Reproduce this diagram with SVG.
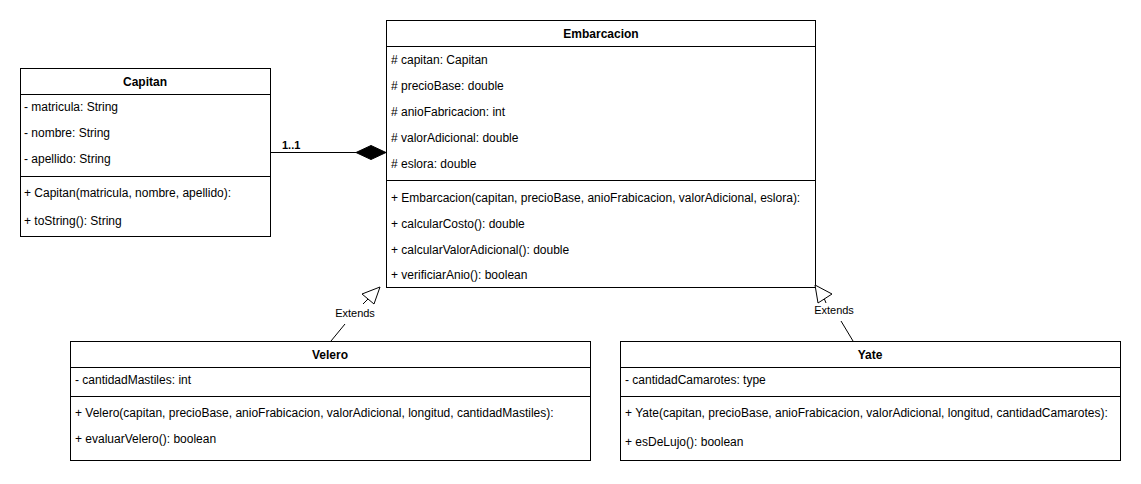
<svg xmlns="http://www.w3.org/2000/svg" width="1141" height="484" viewBox="0 0 1141 484">
<defs>
<style>
text{font-family:"Liberation Sans",Arial,sans-serif;font-size:12px;fill:#000}
.t{font-weight:bold;text-anchor:middle}
.b{fill:#fff;stroke:#000;stroke-width:1}
.l{stroke:#000;stroke-width:1;fill:none}
.lbl{font-size:11px;text-anchor:middle}
</style>
</defs>
<rect width="1141" height="484" fill="#fff"/>
<g id="Capitan">
<rect class="b" x="20.5" y="68.5" width="250" height="168"/>
<line class="l" x1="20.5" y1="94.5" x2="270.5" y2="94.5"/>
<line class="l" x1="20.5" y1="176.5" x2="270.5" y2="176.5"/>
<text class="t" x="145" y="86">Capitan</text>
<text x="24" y="111">- matricula: String</text>
<text x="24" y="137">- nombre: String</text>
<text x="24" y="163">- apellido: String</text>
<text x="24" y="197">+ Capitan(matricula, nombre, apellido):</text>
<text x="24" y="225">+ toString(): String</text>
</g>
<g id="Embarcacion">
<rect class="b" x="386.5" y="20.5" width="429" height="267"/>
<line class="l" x1="386.5" y1="46.5" x2="815.5" y2="46.5"/>
<line class="l" x1="386.5" y1="180.5" x2="815.5" y2="180.5"/>
<text class="t" x="601" y="38">Embarcacion</text>
<text x="391" y="64"># capitan: Capitan</text>
<text x="391" y="90"># precioBase: double</text>
<text x="391" y="116"># anioFabricacion: int</text>
<text x="391" y="142"># valorAdicional: double</text>
<text x="391" y="168"># eslora: double</text>
<text x="391" y="202">+ Embarcacion(capitan, precioBase, anioFrabicacion, valorAdicional, eslora):</text>
<text x="391" y="228">+ calcularCosto(): double</text>
<text x="391" y="254">+ calcularValorAdicional(): double</text>
<text x="391" y="279">+ verificiarAnio(): boolean</text>
</g>
<g id="Velero">
<rect class="b" x="70.5" y="341.5" width="520" height="119"/>
<line class="l" x1="70.5" y1="367.5" x2="590.5" y2="367.5"/>
<line class="l" x1="70.5" y1="396.5" x2="590.5" y2="396.5"/>
<text class="t" x="330" y="359">Velero</text>
<text x="75" y="384">- cantidadMastiles: int</text>
<text x="75" y="417">+ Velero(capitan, precioBase, anioFrabicacion, valorAdicional, longitud, cantidadMastiles):</text>
<text x="75" y="443">+ evaluarVelero(): boolean</text>
</g>
<g id="Yate">
<rect class="b" x="620.5" y="341.5" width="500" height="119"/>
<line class="l" x1="620.5" y1="367.5" x2="1120.5" y2="367.5"/>
<line class="l" x1="620.5" y1="396.5" x2="1120.5" y2="396.5"/>
<text class="t" x="870" y="359">Yate</text>
<text x="625" y="384">- cantidadCamarotes: type</text>
<text x="625" y="417">+ Yate(capitan, precioBase, anioFrabicacion, valorAdicional, longitud, cantidadCamarotes):</text>
<text x="625" y="446">+ esDeLujo(): boolean</text>
</g>
<g id="connectors">
<line class="l" x1="270.5" y1="152.5" x2="356" y2="152.5"/>
<polygon points="386,152.5 371,145.5 356,152.5 371,159.5" fill="#000" stroke="#000"/>
<text x="282" y="149" style="font-weight:bold;font-size:11px">1..1</text>
<line class="l" x1="331" y1="341" x2="345" y2="324"/>
<line class="l" x1="363" y1="304" x2="368" y2="299"/>
<polygon class="b" points="380,287 374,304 362,294"/>
<text class="lbl" x="355" y="317">Extends</text>
<line class="l" x1="853" y1="341" x2="841" y2="321"/>
<line class="l" x1="824" y1="298" x2="826" y2="303"/>
<polygon class="b" points="815,285 832,294 818,303"/>
<text class="lbl" x="834" y="314">Extends</text>
</g>
</svg>
